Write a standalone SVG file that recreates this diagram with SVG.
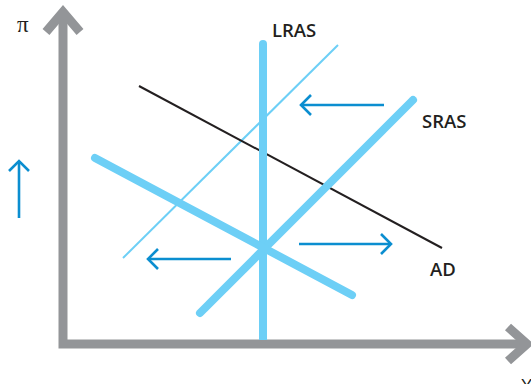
<svg xmlns="http://www.w3.org/2000/svg" width="531" height="384" viewBox="0 0 531 384">
<style>
.axis{fill:none;stroke:#939598;stroke-width:9}
.thick{stroke:#6dcff6;stroke-width:8;stroke-linecap:round;fill:none}
.thin{stroke:#6dcff6;stroke-width:2;fill:none}
.ad{stroke:#231f20;stroke-width:2;fill:none}
.arr{stroke:#0b8ed0;stroke-width:2.6;fill:none}
.lbl{font-family:"Open Sans","Liberation Sans",sans-serif;font-weight:600;font-size:18.5px;fill:#231f20}
</style>
<g id="axes">
<polyline class="axis" points="63,18 63,344 524,344"/>
<polyline class="axis" points="46,32 63,12 80,32"/>
<polyline class="axis" points="508,327 527,344 508,361"/>
<text x="17" y="32" style="font-family:'Liberation Serif',serif;font-size:23px;fill:#231f20">π</text>
<text x="521" y="391" style="font-family:'Liberation Sans',sans-serif;font-size:17px;fill:#231f20">Y</text>
</g>
<g id="connectors">
<line class="thin" x1="123" y1="258" x2="338" y2="45"/>
<line class="ad" x1="139" y1="86" x2="442" y2="248"/>
<line class="thick" x1="263" y1="44" x2="263" y2="340" style="stroke-linecap:butt"/>
<circle cx="263" cy="44" r="4" fill="#6dcff6"/>
<line class="thick" x1="200" y1="313" x2="413" y2="100"/>
<line class="thick" x1="95" y1="158" x2="352" y2="295"/>
<g id="arrows">
<line class="arr" x1="19" y1="218" x2="19" y2="161"/>
<polyline class="arr" points="9,171 19,161 29,171"/>
<line class="arr" x1="384" y1="105" x2="301" y2="105"/>
<polyline class="arr" points="311,95 301,105 311,115"/>
<line class="arr" x1="231" y1="259" x2="148" y2="259"/>
<polyline class="arr" points="158,249 148,259 158,269"/>
<line class="arr" x1="299" y1="244" x2="391" y2="244"/>
<polyline class="arr" points="381,234 391,244 381,254"/>
</g>
</g>
<g id="LRAS"><text class="lbl" x="272" y="37">LRAS</text></g>
<g id="SRAS"><text class="lbl" x="422" y="128">SRAS</text></g>
<g id="AD"><text class="lbl" x="430" y="276">AD</text></g>
</svg>
